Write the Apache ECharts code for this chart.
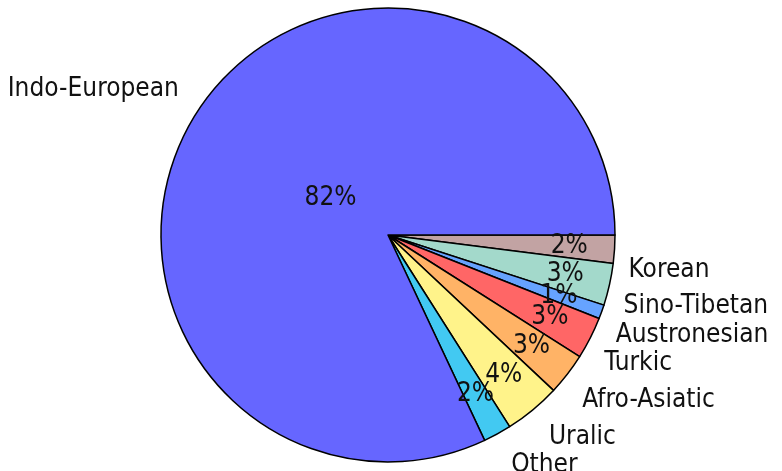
<!DOCTYPE html>
<html>
<head>
<meta charset="utf-8">
<script src="https://cdn.jsdelivr.net/npm/echarts@6/dist/echarts.min.js"></script>
<style>
    html, body { margin: 0; padding: 0; background: #fff; }
    #main { width: 782px; height: 471px; }
</style>
</head>
<body>
<div id="main"></div>
<script>
    // slices clockwise from 3 o'clock
    var families = ['Korean', 'Sino-Tibetan', 'Austronesian', 'Turkic', 'Afro-Asiatic', 'Uralic', 'Other', 'Indo-European'];
    var shares = [2, 3, 1, 3, 3, 4, 2, 82];
    var colors = ['#c2a3a3', '#a3d9cb', '#66a3ff', '#ff6666', '#ffb366', '#fff38a', '#42c9f2', '#6666ff'];

    var center = [388, 235];
    var radius = 227;
    var font = '"DejaVu Sans Condensed", "DejaVu Sans", sans-serif';

    var myChart = echarts.init(document.getElementById('main'));

    var wedges = families.map(function (name, i) {
        return {
            name: name,
            value: shares[i],
            itemStyle: { color: colors[i] }
        };
    });

    // percent labels sit on a polar grid that shares the pie's angles:
    // small wedges get the label near the rim, the big one nearer the middle
    var total = shares.reduce(function (a, b) { return a + b; }, 0);
    var acc = 0;
    var percentPoints = shares.map(function (v) {
        var mid = acc + v / 2;
        acc += v;
        return [v > 50 ? 0.3 : 0.8, mid, v];
    });

    var option = {
        backgroundColor: '#fff',
        polar: { center: center, radius: radius },
        angleAxis: {
            type: 'value',
            min: 0,
            max: total,
            startAngle: 0,
            clockwise: true,
            show: false
        },
        radiusAxis: { type: 'value', min: 0, max: 1, show: false },
        series: [
            {
                type: 'pie',
                center: center,
                radius: radius,
                startAngle: 0,
                clockwise: true,
                animation: false,
                avoidLabelOverlap: true,
                itemStyle: {
                    borderColor: '#000',
                    borderWidth: 1.5
                },
                label: {
                    show: true,
                    position: 'outside',
                    formatter: '{b}',
                    overflow: 'none',
                    color: '#111',
                    fontFamily: font,
                    fontSize: 26
                },
                labelLine: { show: false, length: 10, length2: 4 },
                labelLayout: function (params) {
                    // names hang a little below (right) / above (left) the wedge
                    var right = params.labelRect.x + params.labelRect.width / 2 > center[0];
                    return { dy: right ? 20 : -19 };
                },
                emphasis: { disabled: true },
                data: wedges
            },
            {
                type: 'scatter',
                coordinateSystem: 'polar',
                symbolSize: 0,
                silent: true,
                animation: false,
                itemStyle: { opacity: 1 },
                label: {
                    show: true,
                    position: 'inside',
                    formatter: function (p) { return p.value[2] + '%'; },
                    color: '#111',
                    textBorderWidth: 0,
                    fontFamily: font,
                    fontSize: 26
                },
                emphasis: { disabled: true },
                data: percentPoints
            }
        ]
    };
    myChart.setOption(option);
</script>
</body>
</html>
